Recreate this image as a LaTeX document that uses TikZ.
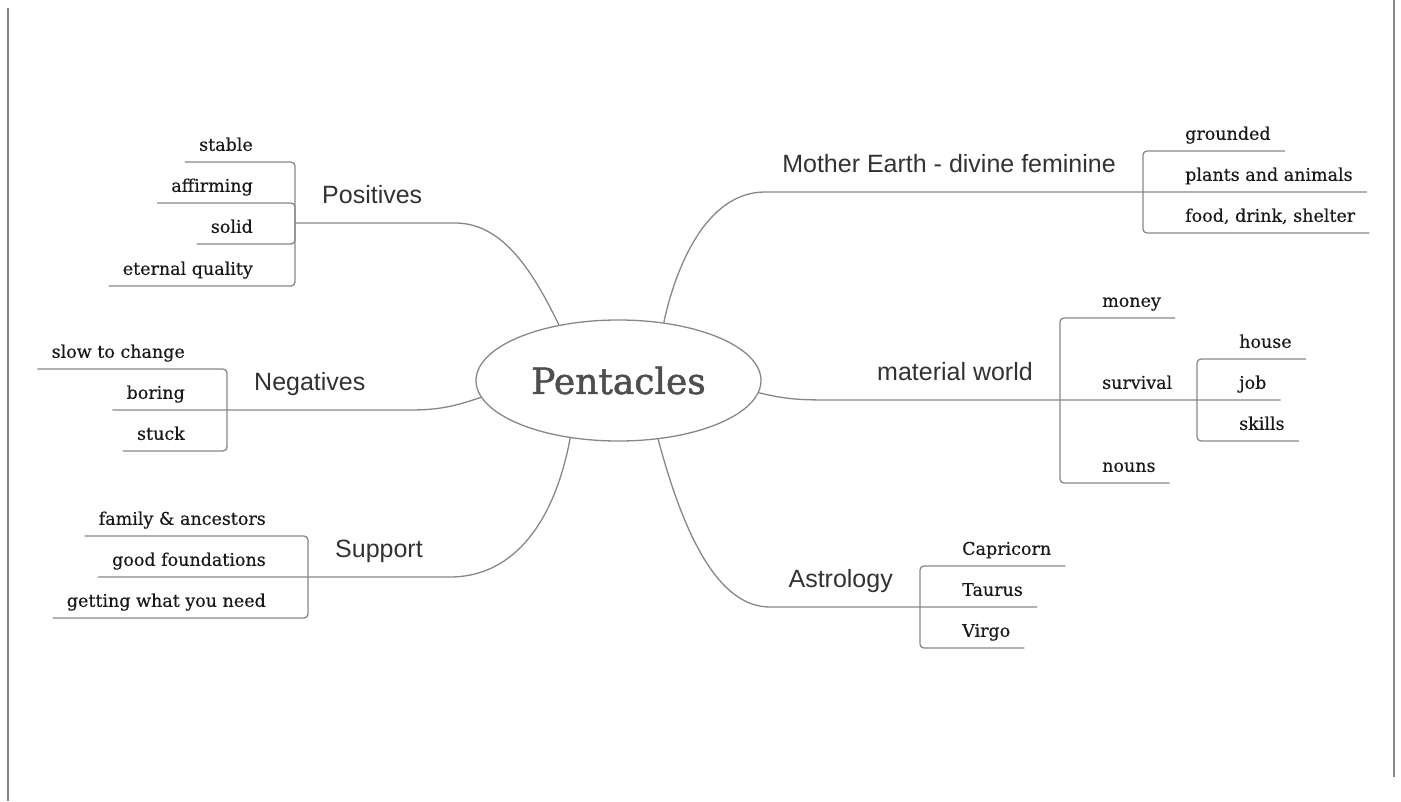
\documentclass[tikz,border=0pt]{standalone}
\usepackage{fontspec}
\setmainfont{DejaVu Serif}
\newfontfamily\branchfont{Liberation Sans}
\newfontfamily\leaffont{DejaVu Serif}[FakeBold=0.4]
\newfontfamily\hubfont{DejaVu Serif}[FakeBold=1.4]
\usepackage{tikz}
\usepackage{xcolor}
\usetikzlibrary{shapes.geometric}

\definecolor{linegray}{RGB}{135,135,135}
\definecolor{leafink}{RGB}{25,25,25}
\definecolor{branchink}{RGB}{50,50,50}
\definecolor{hubink}{RGB}{78,78,78}

\tikzset{
	hub/.style={shape=ellipse, draw=linegray, line width=1.3pt, minimum width=285pt, minimum height=121pt, inner sep=0pt, text=hubink, font=\hubfont\fontsize{36}{40}\selectfont},
	branch/.style={inner sep=0pt, text=branchink, font=\branchfont\fontsize{25}{30}\selectfont},
	leaf/.style={inner xsep=14pt, inner ysep=7pt, text height=13pt, text depth=4pt, text=leafink, font=\leaffont\fontsize{17.5}{21}\selectfont},
	limb/.style={draw=linegray, line width=1.3pt},
	twig/.style={draw=linegray, line width=1.3pt, rounded corners=4pt},
	frame/.style={draw=linegray, line width=1.5pt}
}

\begin{document}
\begin{tikzpicture}[x=1pt, y=-1pt]
	\useasboundingbox (0, 0) rectangle (1401, 801);
	% Frame:
	\draw[frame] (8, 8) -- (8, 801);
	\draw[frame] (1394, 0) -- (1394, 777);
	% Centre:
	\node[hub](pent) at (618.5, 380.5){Pentacles};
	% Junctions:
	\coordinate (posJ) at (295, 223);
	\coordinate (negJ) at (227, 410);
	\coordinate (supJ) at (308, 577);
	\coordinate (meJ) at (1143, 192);
	\coordinate (matJ) at (1060, 400);
	\coordinate (survJ) at (1197, 400);
	\coordinate (astJ) at (920, 607);
	% Positives:
	\node[leaf, anchor=south east](stable) at (267, 162){stable};
	\node[leaf, anchor=south east](affirming) at (267, 203){affirming};
	\node[leaf, anchor=south east](solid) at (267, 244){solid};
	\node[leaf, anchor=south east](eternal) at (267, 286){eternal quality};
	% Negatives:
	\node[leaf, anchor=south east](slow) at (199, 369){slow to change};
	\node[leaf, anchor=south east](boring) at (199, 410){boring};
	\node[leaf, anchor=south east](stuck) at (199, 451){stuck};
	% Support:
	\node[leaf, anchor=south east](family) at (280, 536){family \& ancestors};
	\node[leaf, anchor=south east](found) at (280, 577){good foundations};
	\node[leaf, anchor=south east](getting) at (280, 618){getting what you need};
	% Mother Earth:
	\node[leaf, anchor=south west](grounded) at (1171, 151){grounded};
	\node[leaf, anchor=south west](plants) at (1171, 192){plants and animals};
	\node[leaf, anchor=south west](food) at (1171, 233){food, drink, shelter};
	% Material world:
	\node[leaf, anchor=south west](money) at (1088, 318){money};
	\node[leaf, anchor=south west](survival) at (1088, 400){survival};
	\node[leaf, anchor=south west](nouns) at (1088, 483){nouns};
	\node[leaf, anchor=south west](house) at (1225, 359){house};
	\node[leaf, anchor=south west](job) at (1225, 400){job};
	\node[leaf, anchor=south west](skills) at (1225, 441){skills};
	% Astrology:
	\node[leaf, anchor=south west](capricorn) at (948, 566){Capricorn};
	\node[leaf, anchor=south west](taurus) at (948, 607){Taurus};
	\node[leaf, anchor=south west](virgo) at (948, 648){Virgo};
	% Branches:
	\draw[limb] (pent.137) .. controls (530, 265) and (500, 223) .. (455, 223) -- (posJ);
	\draw[limb] (pent.187) .. controls (455, 406) and (440, 410) .. (410, 410) -- (negJ) -- (boring.south west);
	\draw[limb] (pent.230) .. controls (555, 520) and (515, 577) .. (450, 577) -- (supJ) -- (found.south west);
	\draw[limb] (pent.52) .. controls (675, 270) and (705, 192) .. (765, 192) -- (meJ) -- (plants.south east);
	\draw[limb] (pent.355) .. controls (790, 400) and (800, 400) .. (840, 400) -- (matJ) -- (survJ) -- (job.south east);
	\draw[limb] (pent.304) .. controls (685, 540) and (720, 607) .. (770, 607) -- (astJ) -- (taurus.south east);
	\node[branch, anchor=base west](positives) at (322, 203){Positives};
	\node[branch, anchor=base west](negatives) at (254, 390){Negatives};
	\node[branch, anchor=base west](support) at (335, 557){Support};
	\node[branch, anchor=base east](mother) at (1116, 172){Mother Earth - divine feminine};
	\node[branch, anchor=base east](material) at (1033, 380){material world};
	\node[branch, anchor=base east](astrology) at (893, 587){Astrology};
	% Leaf brackets:
	\draw[twig] (posJ) |- (stable.south east) -- (stable.south west);
	\draw[twig] (posJ) |- (affirming.south east) -- (affirming.south west);
	\draw[twig] (posJ) |- (solid.south east) -- (solid.south west);
	\draw[twig] (posJ) |- (eternal.south east) -- (eternal.south west);
	\draw[twig] (negJ) |- (slow.south east) -- (slow.south west);
	\draw[twig] (negJ) |- (stuck.south east) -- (stuck.south west);
	\draw[twig] (supJ) |- (family.south east) -- (family.south west);
	\draw[twig] (supJ) |- (getting.south east) -- (getting.south west);
	\draw[twig] (meJ) |- (grounded.south west) -- (grounded.south east);
	\draw[twig] (meJ) |- (food.south west) -- (food.south east);
	\draw[twig] (matJ) |- (money.south west) -- (money.south east);
	\draw[twig] (matJ) |- (nouns.south west) -- (nouns.south east);
	\draw[twig] (survJ) |- (house.south west) -- (house.south east);
	\draw[twig] (survJ) |- (skills.south west) -- (skills.south east);
	\draw[twig] (astJ) |- (capricorn.south west) -- (capricorn.south east);
	\draw[twig] (astJ) |- (virgo.south west) -- (virgo.south east);
\end{tikzpicture}
\end{document}
